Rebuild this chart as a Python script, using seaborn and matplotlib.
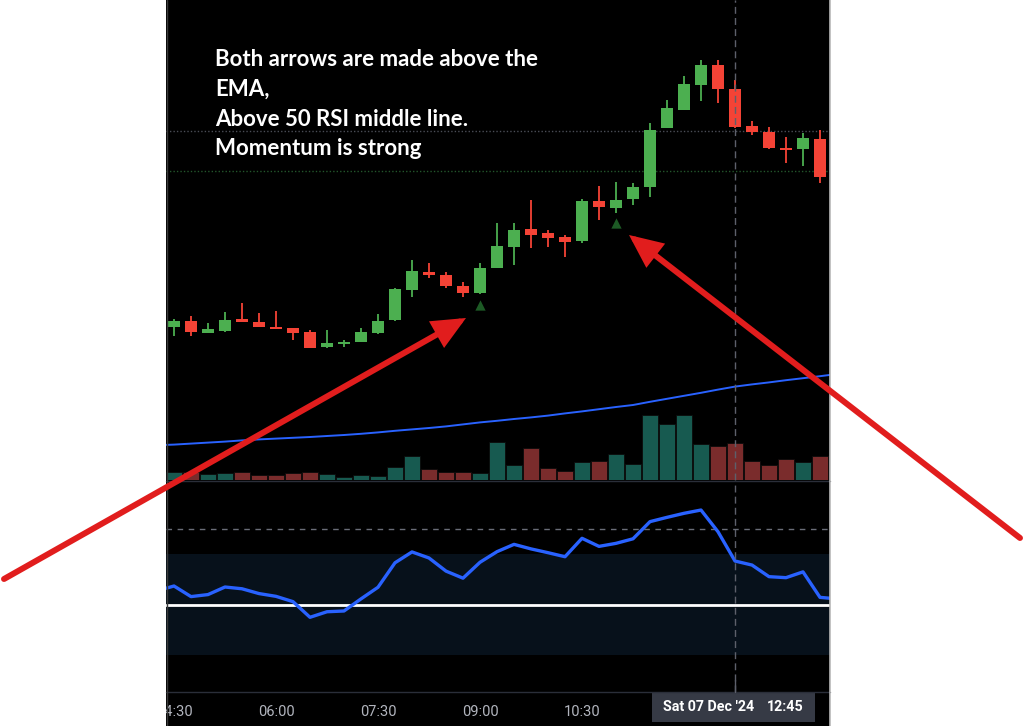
import numpy as np
import pandas as pd
import matplotlib
matplotlib.use("Agg")
import matplotlib.pyplot as plt
from matplotlib.patches import Rectangle, FancyArrowPatch
import seaborn as sns

sns.set_theme(style="dark")
plt.rcParams["font.family"] = ["Lato", "DejaVu Sans"]

# ---------------- data (15-min candles, 04:30 .. 14:00) ----------------
candle_idx = list(range(39))
opens  = [99365, 99395, 99335, 99345, 99405, 99390, 99365, 99360, 99340, 99265,
          99280, 99290, 99335, 99400, 99550, 99640, 99625, 99570, 99535, 99660,
          99765, 99855, 99835, 99815, 99795, 99995, 99960, 100005, 100065, 100360,
          100450, 100575, 100675, 100555, 100370, 100340, 100258, 100255, 100305]
closes = [99395, 99340, 99355, 99400, 99390, 99365, 99355, 99335, 99260, 99285,
          99290, 99340, 99395, 99555, 99645, 99625, 99570, 99535, 99660, 99770,
          99850, 99825, 99810, 99790, 99995, 99965, 100000, 100065, 100350, 100460,
          100580, 100675, 100555, 100365, 100340, 100260, 100250, 100310, 100115]
highs  = [99405, 99420, 99385, 99440, 99485, 99435, 99445, 99360, 99350, 99350,
          99300, 99360, 99430, 99560, 99700, 99685, 99640, 99590, 99685, 99885,
          99885, 100000, 99850, 99825, 100005, 100070, 100090, 100085, 100385, 100500,
          100620, 100700, 100700, 100600, 100395, 100365, 100315, 100335, 100350]
lows   = [99320, 99320, 99335, 99340, 99390, 99365, 99355, 99300, 99260, 99260,
          99265, 99290, 99330, 99395, 99515, 99610, 99560, 99515, 99530, 99660,
          99675, 99760, 99765, 99715, 99785, 99900, 99935, 99975, 100015, 100360,
          100450, 100495, 100485, 100360, 100325, 100255, 100185, 100170, 100085]

volume_idx = list(range(40))
volume = [83, 83, 60, 73, 83, 50, 50, 67, 83, 60, 33, 50, 43, 133, 240, 110, 83, 83, 67, 380,
          150, 320, 117, 90, 180, 190, 260, 163, 650, 557, 650, 360, 337, 370, 190, 147, 207, 180, 240, 240]
volume_dir = ["up", "down", "up", "up", "down", "down", "down", "down", "down", "up",
              "up", "up", "up", "up", "up", "down", "down", "down", "up", "up",
              "up", "down", "down", "down", "up", "down", "up", "up", "up", "up",
              "up", "up", "down", "down", "down", "down", "down", "up", "down", "down"]

ema_idx = list(range(-1, 40))
ema = [98774, 98777, 98782, 98787, 98792, 98798, 98803, 98807, 98811, 98815, 98820,
       98825, 98831, 98838, 98846, 98853, 98860, 98868, 98878, 98888, 98896,
       98905, 98913, 98922, 98933, 98943, 98954, 98965, 98975, 98991, 99006,
       99021, 99036, 99052, 99067, 99078, 99088, 99099, 99109, 99119, 99130]

rsi_idx = list(range(-1, 40))
rsi = [55.5, 57.4, 53.2, 54.0, 57.0, 56.3, 54.4, 53.3, 51.2, 45.0, 47.2,
       47.5, 52.3, 56.9, 66.6, 70.9, 68.5, 63.3, 60.5, 66.8, 71.0,
       73.9, 72.1, 70.6, 69.0, 76.3, 73.1, 74.3, 76.1, 82.9, 84.6,
       86.2, 87.5, 78.9, 67.3, 65.7, 61.1, 60.7, 63.0, 52.9, 52.3]

signal_idx = [18, 26]
signal_level = [99475, 99885]

tick_idx = [0, 6, 12, 18, 24]
tick_labels = ["04:30", "06:00", "07:30", "09:00", "10:30"]
cursor_idx = 33
cursor_date = "Sat 07 Dec '24"
cursor_time = "12:45"

price_lines = [100345, 100145]
note = "Both arrows are made above the\nEMA,\nAbove 50 RSI middle line.\nMomentum is strong"

# ---------------- figure ----------------
W, H = 1024, 726
fig = plt.figure(figsize=(W / 100, H / 100), dpi=100, facecolor="white")
L, R = 166, 830

def rect(top, bottom):
    return [L / W, 1 - bottom / H, (R - L) / W, (bottom - top) / H]

fig.patches.append(Rectangle((L / W, 0), (R - L) / W, 1, transform=fig.transFigure,
                             facecolor="black", edgecolor="none", zorder=-5))

xlim = ((L - 174) / 17.0, (R - 174) / 17.0)

ax_vol = fig.add_axes(rect(0, 480))
ax = fig.add_axes(rect(0, 480))
ax_rsi = fig.add_axes(rect(480, 692))
ax_time = fig.add_axes(rect(692, 726))
for a in (ax_vol, ax, ax_rsi, ax_time):
    a.set_facecolor("none")
    a.set_xlim(*xlim)
    a.set_axis_off()

# volume
vdf = pd.DataFrame({"i": volume_idx, "v": volume, "d": volume_dir})
sns.barplot(data=vdf, x="i", y="v", hue="d", dodge=False, native_scale=True,
            palette={"up": "#175a50", "down": "#7a2c2c"}, saturation=1,
            width=0.97, edgecolor="#0b0b0b", linewidth=0.6, legend=False, ax=ax_vol)
ax_vol.set_xlim(*xlim)
ax_vol.set_ylim(0, 4800)
ax_vol.set_axis_off()

# price pane
ax.set_ylim(98600, 101000)
for lvl, col in zip(price_lines, ["#4a4d56", "#23562b"]):
    ax.axhline(lvl, color=col, lw=1.0, ls=(0, (1, 1.5)), zorder=1)
sns.lineplot(x=ema_idx, y=ema, color="#2962ff", lw=1.4, ax=ax, zorder=2)
up = np.array(closes) >= np.array(opens)
cols = np.where(up, "#4caf50", "#f44336")
ax.vlines(candle_idx, lows, highs, colors=cols, lw=1.3, zorder=3)
bottoms = np.minimum(opens, closes)
heights = np.maximum(np.abs(np.array(closes) - np.array(opens)), 7)
ax.bar(candle_idx, heights, bottom=bottoms, width=0.7, color=cols, zorder=4, linewidth=0)
ax.scatter(signal_idx, signal_level, marker="^", s=55, color="#1d5a25", zorder=4, linewidths=0)
ax.set_xlim(*xlim)
ax.set_axis_off()

# RSI pane
ax_rsi.set_ylim(15.4, 99.4)
ax_rsi.axhspan(30, 70, color="#07111b", zorder=0, lw=0)
ax_rsi.axhline(80, color="#6a6d78", lw=1.0, ls=(0, (4, 4)), zorder=1)
ax_rsi.axhline(50, color="white", lw=2.0, zorder=2)
sns.lineplot(x=rsi_idx, y=rsi, color="#2962ff", lw=2.4, ax=ax_rsi, zorder=3)
ax_rsi.set_xlim(*xlim)
ax_rsi.set_axis_off()

# crosshair
for a in (ax, ax_rsi):
    a.axvline(cursor_idx, color="#5d606b", lw=1.0, ls=(0, (5, 3)), zorder=5)

# time axis strip
ax_time.set_ylim(0, 1)
for i, lab in zip(tick_idx, tick_labels):
    ax_time.text(i, 0.42, lab, ha="center", va="center", color="#b2b5be",
                 fontsize=10.5, family=["Roboto", "DejaVu Sans"], clip_on=True)
x0 = (652 - 174) / 17.0
x1 = (815 - 174) / 17.0
ax_time.add_patch(Rectangle((x0, 0.12), x1 - x0, 0.88, facecolor="#363a45", edgecolor="none", zorder=3))
ax_time.text((663 - 174) / 17.0, 0.55, cursor_date, ha="left", va="center", color="white",
             fontsize=10.3, fontweight="bold", family=["Roboto", "DejaVu Sans"], zorder=4)
ax_time.text((804 - 174) / 17.0, 0.55, cursor_time, ha="right", va="center", color="white",
             fontsize=10.3, fontweight="bold", family=["Roboto", "DejaVu Sans"], zorder=4)

# separators
def hline_px(y, col, lw=1.0):
    fig.add_artist(plt.Line2D([L / W, R / W], [1 - y / H, 1 - y / H], transform=fig.transFigure,
                              color=col, lw=lw, zorder=6))
hline_px(480.5, "#2a2e39")
hline_px(692, "#2a2e39")
cx = (174 + 17 * cursor_idx) / W
fig.add_artist(plt.Line2D([cx, cx], [1 - 692 / H, 1 - 680 / H],
                          transform=fig.transFigure, color="#5d606b", lw=1.0, zorder=6))
fig.add_artist(plt.Line2D([(R - 0.5) / W] * 2, [0, 1], transform=fig.transFigure, color="#b8b8b8", lw=1.2, zorder=7))
fig.add_artist(plt.Line2D([(L + 0.5) / W] * 2, [0, 1], transform=fig.transFigure, color="#3a3a3a", lw=1.0, zorder=7))

# note text (anchored at last line baseline)
fig.text(215 / W, 1 - 155 / H, note, color="white", fontsize=16, fontweight="bold",
         ha="left", va="baseline", linespacing=1.5, zorder=8)

# red arrows
def arrow(p_from, p_to):
    a = FancyArrowPatch((p_from[0] / W, 1 - p_from[1] / H), (p_to[0] / W, 1 - p_to[1] / H),
                        transform=fig.transFigure,
                        arrowstyle="-|>,head_length=17,head_width=7.7",
                        color="#e11d1d", lw=4.3, shrinkA=0, shrinkB=0, zorder=9,
                        mutation_scale=1, joinstyle="miter")
    fig.add_artist(a)

arrow((4, 579), (466, 318))
arrow((1020, 538), (629, 235))

fig.savefig("out.png", dpi=100, facecolor="white")
